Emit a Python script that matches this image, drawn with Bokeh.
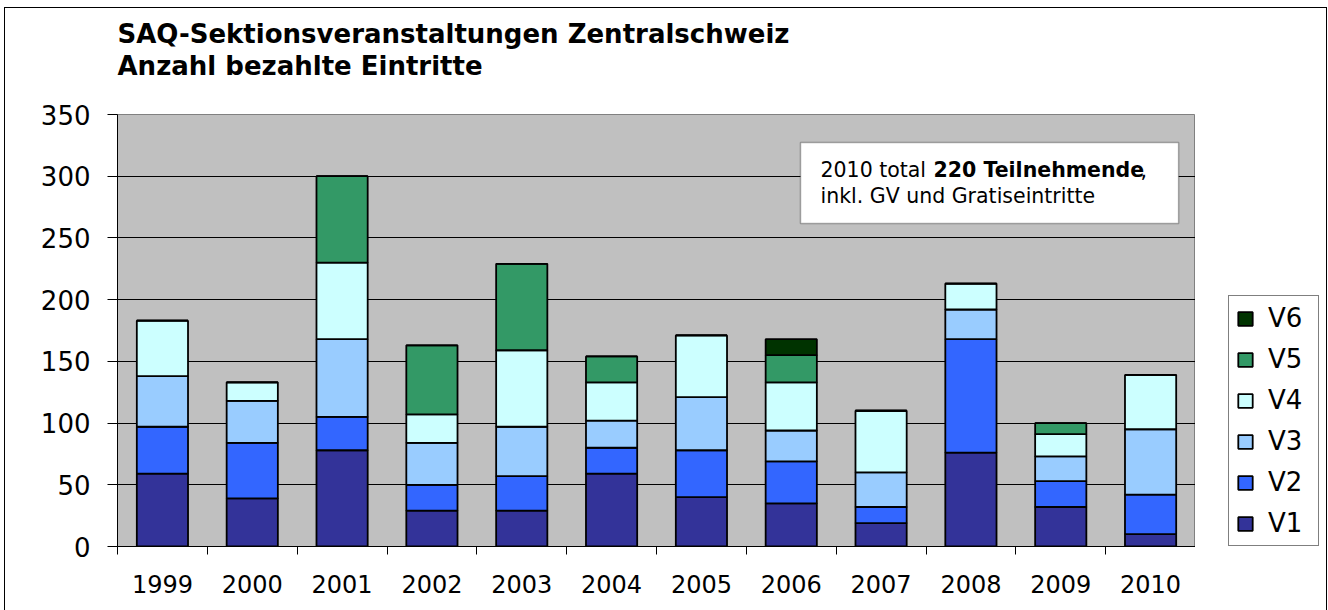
from bokeh.plotting import figure
from bokeh.layouts import column, row
from bokeh.models import (ColumnDataSource, Range1d, FixedTicker, SingleIntervalTicker,
                          CustomJSTickFormatter, Legend, LegendItem, Label, BoxAnnotation)
from bokeh.embed import file_html
from bokeh.resources import INLINE

# ---------------- data ----------------
years = ["1999", "2000", "2001", "2002", "2003", "2004",
         "2005", "2006", "2007", "2008", "2009", "2010"]
V1 = [59, 39, 78, 29, 29, 59, 40, 35, 19, 76, 32, 10]
V2 = [38, 45, 27, 21, 28, 21, 38, 34, 13, 92, 21, 32]
V3 = [41, 34, 63, 34, 40, 22, 43, 25, 28, 24, 20, 53]
V4 = [45, 15, 62, 23, 62, 31, 50, 39, 50, 21, 18, 44]
V5 = [0, 0, 70, 56, 70, 21, 0, 22, 0, 0, 9, 0]
V6 = [0, 0, 0, 0, 0, 0, 0, 13, 0, 0, 0, 0]
series = ["V1", "V2", "V3", "V4", "V5", "V6"]
colors = ["#333399", "#3366FF", "#99CCFF", "#CCFFFF", "#339966", "#003300"]
title_lines = ["SAQ-Sektionsveranstaltungen Zentralschweiz", "Anzahl bezahlte Eintritte"]
note_normal = "2010 total "
note_bold = "220 Teilnehmende"
note_comma = ","
note_line2 = "inkl. GV und Gratiseintritte"

FONT = "DejaVu Sans"


def blank(width, height, y_range=None):
    f = figure(width=width, height=height, output_backend="svg", toolbar_location=None,
               x_axis_type=None, y_axis_type=None, x_range=Range1d(0, 1),
               y_range=y_range if y_range is not None else Range1d(0, 1),
               min_border_left=0, min_border_right=0, min_border_top=0, min_border_bottom=0)
    f.outline_line_color = None
    f.background_fill_color = "white"
    f.border_fill_color = "white"
    f.grid.visible = False
    return f


# ---------------- title strip ----------------
pt = blank(1321, 90)
for i, t in enumerate(title_lines):
    pt.add_layout(Label(x=112, y=65 - 32 * i, x_units="screen", y_units="screen", text=t,
                        text_font=FONT, text_font_style="bold", text_font_size="26px",
                        text_color="black", text_baseline="alphabetic", text_align="left"))

# ---------------- main chart ----------------
centers = [i + 0.5 for i in range(len(years))]
source = ColumnDataSource(dict(x=centers, V1=V1, V2=V2, V3=V3, V4=V4, V5=V5, V6=V6))

p = figure(width=1190, height=522, output_backend="svg", toolbar_location=None,
           x_range=Range1d(0, len(years)), y_range=Range1d(0, 350),
           min_border_left=112, min_border_top=16, min_border_right=0, min_border_bottom=74)
p.background_fill_color = "#C0C0C0"
p.border_fill_color = "white"
p.outline_line_color = "#808080"
p.outline_line_width = 1

renderers = p.vbar_stack(series, x="x", width=0.57, source=source,
                         fill_color=colors, line_color="black", line_width=1.8)

p.xgrid.visible = False
p.ygrid.grid_line_color = "black"
p.ygrid.grid_line_width = 1
p.ygrid.ticker = SingleIntervalTicker(interval=50)

yax = p.yaxis[0]
yax.ticker = SingleIntervalTicker(interval=50)
yax.axis_line_color = "black"
yax.major_tick_line_color = "black"
yax.major_tick_out = 10
yax.major_tick_in = 0
yax.minor_tick_line_color = None
yax.major_label_text_font = FONT
yax.major_label_text_font_size = "26px"
yax.major_label_text_color = "black"
yax.major_label_standoff = 17

xax = p.xaxis[0]
xax.ticker = FixedTicker(ticks=centers, minor_ticks=list(range(len(years) + 1)))
xax.formatter = CustomJSTickFormatter(args=dict(years=years),
                                      code="return years[Math.floor(tick)] || '';")
xax.axis_line_color = "black"
xax.major_tick_out = 0
xax.major_tick_in = 0
xax.major_tick_line_color = None
xax.minor_tick_out = 8
xax.minor_tick_in = 0
xax.minor_tick_line_color = "black"
xax.major_label_text_font = FONT
xax.major_label_text_font_size = "24px"
xax.major_label_text_color = "black"
xax.major_label_standoff = 20

# note box
p.add_layout(BoxAnnotation(left=7.603, right=11.812, bottom=261.7, top=327.3,
                           fill_color="white", fill_alpha=1,
                           line_color="black", line_width=1.5, level="overlay"))
for txt, xs, ys, style in [(note_normal, 703, 377, "normal"),
                           (note_bold, 816, 377, "bold"),
                           (note_comma, 1023, 377, "normal"),
                           (note_line2, 703, 351, "normal")]:
    p.add_layout(Label(x=xs, y=ys, x_units="screen", y_units="screen", text=txt,
                       text_font=FONT, text_font_style=style, text_font_size="20.5px",
                       text_color="black", text_baseline="alphabetic", text_align="left",
                       level="overlay"))

# ---------------- legend strip ----------------
# the same stacked bars, hidden in this strip, only to feed the legend swatches
pl = blank(131, 522, y_range=Range1d(-2, -1))
leg_renderers = pl.vbar_stack(series, x="x", width=0.57, source=source,
                              fill_color=colors, line_color="black", line_width=1.8)
for r in leg_renderers:
    r.visible = False
leg_items = [LegendItem(label=s, renderers=[r]) for s, r in zip(series, leg_renderers)][::-1]
legend = Legend(items=leg_items, location=(33, 0), orientation="vertical")
legend.click_policy = "none"
legend.inactive_fill_alpha = 0
legend.label_text_font = FONT
legend.label_text_font_size = "26px"
legend.label_text_color = "black"
legend.glyph_width = 18
legend.glyph_height = 17
legend.label_standoff = 14
legend.label_width = 43
legend.label_height = 30
legend.spacing = 11
legend.padding = 7
legend.margin = 0
legend.border_line_color = "black"
legend.border_line_width = 1
legend.background_fill_color = "white"
legend.background_fill_alpha = 1
pl.add_layout(legend)

layout = column(pt, row(p, pl),
                styles={"border": "1px solid black", "margin-left": "4px", "margin-top": "7px"})

open("out.html", "w").write(file_html(layout, INLINE))
